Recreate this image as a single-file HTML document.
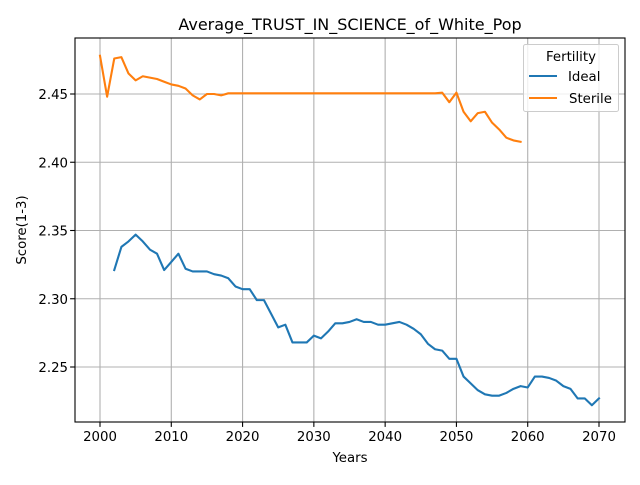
<!DOCTYPE html>
<html><head><meta charset="utf-8"><style>
body{margin:0;background:#fff;font-family:"Liberation Sans","DejaVu Sans",sans-serif}
svg text{font-family:"DejaVu Sans","Liberation Sans",sans-serif}
</style></head><body>
<svg id="c" width="640" height="480" xmlns="http://www.w3.org/2000/svg"></svg>
<script>
const sterileYears=[];for(let y=2000;y<=2059;y++)sterileYears.push(y);
const sterileValues=[2.478,2.448,2.476,2.477,2.465,2.460,2.463,2.462,2.461,2.459,2.457,2.456,2.454,2.449,2.446,2.450,2.450,2.449,2.4505,2.4505,2.4505,2.4505,2.4505,2.4505,2.4505,2.4505,2.4505,2.4505,2.4505,2.4505,2.4505,2.4505,2.4505,2.4505,2.4505,2.4505,2.4505,2.4505,2.4505,2.4505,2.4505,2.4505,2.4505,2.4505,2.4505,2.4505,2.4505,2.4505,2.451,2.444,2.451,2.437,2.430,2.436,2.437,2.429,2.424,2.418,2.416,2.415];
const idealYears=[];for(let y=2002;y<=2070;y++)idealYears.push(y);
const idealValues=[2.321,2.338,2.342,2.347,2.342,2.336,2.333,2.321,2.327,2.333,2.322,2.320,2.320,2.320,2.318,2.317,2.315,2.309,2.307,2.307,2.299,2.299,2.289,2.279,2.281,2.268,2.268,2.268,2.273,2.271,2.276,2.282,2.282,2.283,2.285,2.283,2.283,2.281,2.281,2.282,2.283,2.281,2.278,2.274,2.267,2.263,2.262,2.256,2.256,2.243,2.238,2.233,2.230,2.229,2.229,2.231,2.234,2.236,2.235,2.243,2.243,2.242,2.240,2.236,2.234,2.227,2.227,2.222,2.227];
const xTicks=[2000,2010,2020,2030,2040,2050,2060,2070];
const yTicks=[2.25,2.30,2.35,2.40,2.45];
const L=75,R=625,T=38,B=422;
const x=v=>100+(v-2000)*(599-100)/70;
const y=v=>94+(2.45-v)*(367-94)/0.2;
const svg=document.getElementById('c');const NS='http://www.w3.org/2000/svg';
function mk(t,a,p){const e=document.createElementNS(NS,t);for(const k in a)e.setAttribute(k,a[k]);(p||svg).appendChild(e);return e;}
xTicks.forEach(t=>{const g=mk('line',{x1:x(t),x2:x(t),y1:T,y2:B,stroke:'#b0b0b0','stroke-width':1.1});

mk('line',{x1:x(t),x2:x(t),y1:B,y2:B+4.9,stroke:'#000','stroke-width':1.1});
const tx=mk('text',{x:x(t),y:B+19,'text-anchor':'middle','font-size':13.3});tx.textContent=t;
});
yTicks.forEach(t=>{const g=mk('line',{x1:L,x2:R,y1:y(t),y2:y(t),stroke:'#b0b0b0','stroke-width':1.1});

mk('line',{x1:L-4.9,x2:L,y1:y(t),y2:y(t),stroke:'#000','stroke-width':1.1});
const tx=mk('text',{x:L-7,y:y(t)+5,'text-anchor':'end','font-size':13.3});tx.textContent=t.toFixed(2);
});
function line(xs,vs,c,n){const p=mk('polyline',{points:xs.map((v,i)=>x(v)+','+y(vs[i])).join(' '),fill:'none',stroke:c,'stroke-width':2.1,'stroke-linejoin':'round','stroke-linecap':'square'});
}
line(idealYears,idealValues,'#1f77b4','ideal-line');
line(sterileYears,sterileValues,'#ff7f0e','sterile-line');
const fr=mk('rect',{x:L,y:T,width:R-L,height:B-T,fill:'none',stroke:'#000','stroke-width':1.1});

</script>
<svg width="640" height="480" style="position:absolute;left:0;top:0" xmlns="http://www.w3.org/2000/svg">
<text x="350" y="30" text-anchor="middle" font-size="16">Average_TRUST_IN_SCIENCE_of_White_Pop</text>
<text x="350" y="462" text-anchor="middle" font-size="13.3">Years</text>
<text x="26" y="230" text-anchor="middle" font-size="13.3" transform="rotate(-90 26 230)">Score(1-3)</text>
<g>
<rect x="523.5" y="44.5" width="95" height="67" rx="2" fill="#fff" fill-opacity="0.8" stroke="#ccc"/>
<text x="571" y="61" text-anchor="middle" font-size="13.3">Fertility</text>
<line x1="529" x2="557" y1="76" y2="76" stroke="#1f77b4" stroke-width="2.1"/>
<text x="568" y="81" font-size="13.3">Ideal</text>
<line x1="529" x2="557" y1="98" y2="98" stroke="#ff7f0e" stroke-width="2.1"/>
<text x="569" y="103" font-size="13.3">Sterile</text>
</g>
</svg>
</body></html>
